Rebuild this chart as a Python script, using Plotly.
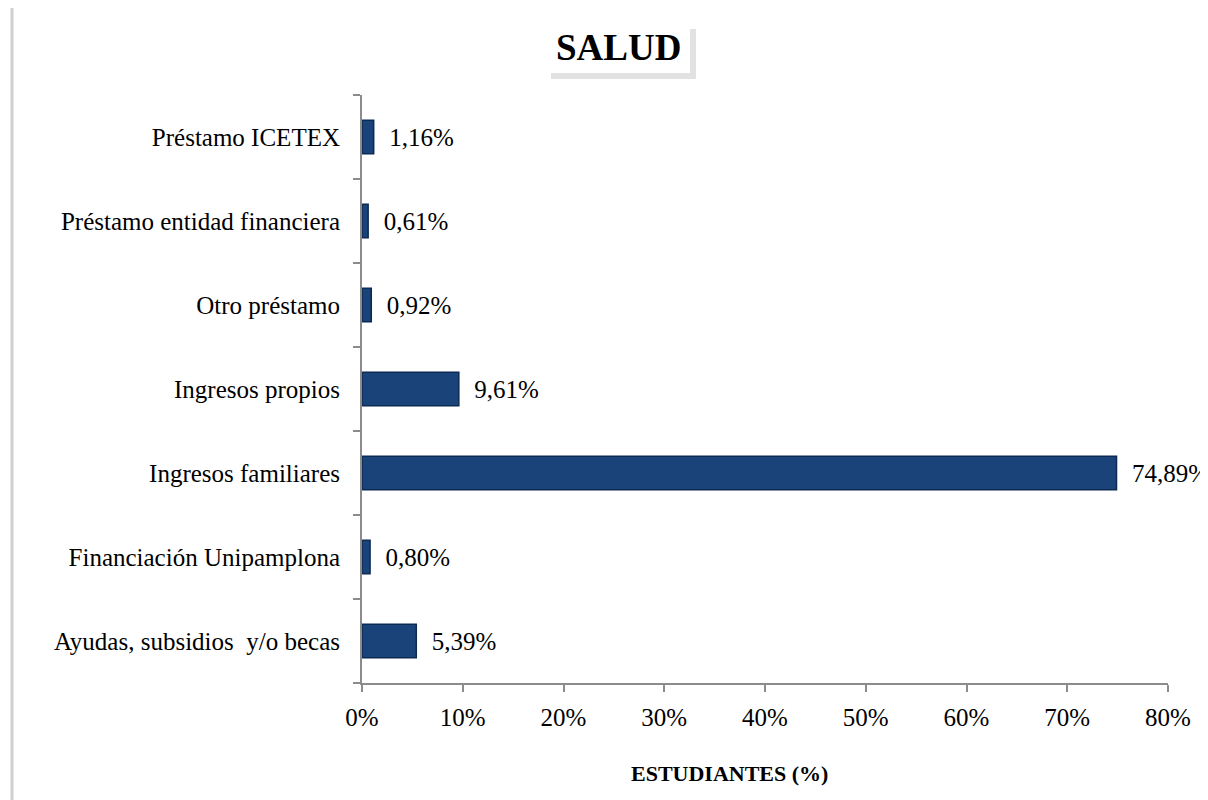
import plotly.graph_objects as go

categorias = ["Ayudas, subsidios  y/o becas", "Financiación Unipamplona", "Ingresos familiares",
              "Ingresos propios", "Otro préstamo", "Préstamo entidad financiera", "Préstamo ICETEX"]
porcentajes = [5.39, 0.80, 74.89, 9.61, 0.92, 0.61, 1.16]
etiquetas = ["\u00a0\u00a0" + f"{v:.2f}%".replace(".", ",") for v in porcentajes]
ticks_x = list(range(0, 81, 10))
ticks_x_txt = [f"{v}%" for v in ticks_x]

# page offset of the figure (body margin)
OFF = 8
W, H = 1208, 800
# plot area in page pixels
PL, PR, PT, PB = 362, 1168, 95, 683
pw, ph = PR - PL, PB - PT
L, T = PL - OFF, PT - OFF
R, B = W - L - pw, H - T - ph

def px(x):
    return (x - PL) / pw

def py(y):
    return (PB - y) / ph

serif = "Liberation Serif"
gris = "#8c8c8c"

fig = go.Figure()
fig.add_trace(go.Bar(
    y=categorias, x=porcentajes, orientation="h",
    marker=dict(color="#194379", line=dict(color="#0c2a52", width=1.5)),
    width=0.4,
    text=etiquetas, textposition="outside", cliponaxis=False,
    textfont=dict(family=serif, size=25, color="black"),
))

fig.update_layout(
    width=W, height=H,
    margin=dict(l=L, r=R, t=T, b=B),
    paper_bgcolor="white", plot_bgcolor="white",
    font=dict(family=serif, size=25, color="black"),
    showlegend=False,
    xaxis=dict(range=[0, 80], tickvals=ticks_x, ticktext=ticks_x_txt, showgrid=False,
               showline=True, linecolor=gris, linewidth=2, ticks="outside",
               ticklen=7, tickcolor=gris, tickwidth=2, ticklabelstandoff=4,
               zeroline=False),
    yaxis=dict(showgrid=False, showline=True, linecolor=gris, linewidth=2,
               ticks="outside", tickson="boundaries", ticklen=7, tickcolor=gris,
               tickwidth=2, ticklabelstandoff=15),
    shapes=[
        dict(type="rect", xref="paper", yref="paper", x0=px(551), x1=px(696),
             y0=py(79), y1=py(29), fillcolor="#e2e2e2", line=dict(width=0), layer="below"),
        dict(type="rect", xref="paper", yref="paper", x0=px(547), x1=px(690),
             y0=py(73), y1=py(24), fillcolor="white", line=dict(width=0), layer="below"),
        dict(type="line", xref="paper", yref="paper", x0=px(12), x1=px(12),
             y0=py(5), y1=py(810), line=dict(color="#d0d0d0", width=3)),
    ],
    annotations=[
        dict(text="<b>SALUD</b>", xref="paper", yref="paper", x=px(618), y=py(48),
             xanchor="center", yanchor="middle", showarrow=False,
             font=dict(family=serif, size=37, color="black")),
        dict(text="<b>ESTUDIANTES (%)</b>", xref="paper", yref="paper", x=px(729), y=py(773),
             xanchor="center", yanchor="middle", showarrow=False,
             font=dict(family=serif, size=22, color="black")),
    ],
)

fig.write_html("out.html")
